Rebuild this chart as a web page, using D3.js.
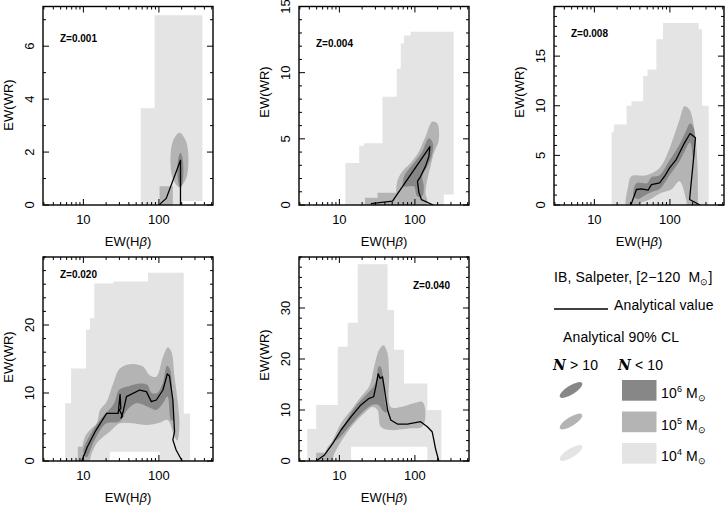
<!DOCTYPE html>
<html><head><meta charset="utf-8">
<script src="https://cdn.jsdelivr.net/npm/d3@7"></script>
<style>body{margin:0;background:#fff}svg{display:block}text{font-family:"Liberation Sans",Arial,sans-serif;fill:#000}</style>
</head><body><svg id="c" width="727" height="507"></svg>
<script>
// ---------- data ----------
const panelLabels = ["Z=0.001","Z=0.004","Z=0.008","Z=0.020","Z=0.040"];
const xMajorTicks = [10, 100];
const xMinorTicks = [3,4,5,6,7,8,9,20,30,40,50,60,70,80,90,200,300,400,500];
const yMaxima = [7.5, 15, 20, 30, 40];
const yMajorTicks = [[0,2,4,6],[0,5,10,15],[0,5,10,15],[0,10,20],[0,10,20,30]];
const yMinorSteps = [1, 1, 1, 2, 2];

// 10^4 Msun, N<10 region: [EW(Hb) breakpoint, upper EW(WR), lower EW(WR)]
const light001 = [[57.4,3.66,0],[87.7,7.17,0],[203,7.17,0.15],[376,7.17,0.15]];
const light004 = [[12.0,3.17,0],[18.3,4.47,0],[21.3,4.67,0],[37.2,8.18,0],[57.4,10.3,0],[64.9,12.2,0],[71.7,12.8,0],[87.7,13.1,0],[241,13.1,0.79],[326,13.1,0.79]];
const light008 = [[16.9,7.33,0],[18.1,8.1,0],[26.7,10.0,0],[31.0,10.45,0],[44.2,13.0,0],[50.5,13.65,0],[66.2,16.7,0],[80.9,18.35,0],[241,17.7,0],[267,10.0,0],[326,10.0,0]];
const light020 = [[5.74,8.48,0],[6.88,13.6,0],[10.85,19.3,0],[12.2,21.0,0],[13.96,26.1,0],[22.4,26.1,1.37],[24.8,26.4,1.37],[71.7,27.7,1.37],[102,27.7,0],[213,7.0,0],[259,7.0,0]];
const light040 = [[3.76,6.27,0],[4.93,11.0,0],[9.52,22.4,0],[12.9,27.1,0],[14.3,27.1,2.8],[17.5,38.6,2.8],[43.4,29.6,2.8],[53,21.8,2.8],[71.7,15.2,2.8],[97,15.2,2.8],[146,10.0,0],[224,10.0,0]];

// 10^5 Msun, N<10 blocks (same encoding)
const midBlock001 = [[102,0.71,0],[153,0.71,0]];
const midBlock004 = [[21.8,0.54,0],[32.0,0.92,0],[57.4,0.92,0]];
const midBlock008 = [];
const midBlock020 = [[8.44,2.1,0],[11.3,2.1,0]];
const midBlock040 = [[4.93,1.63,0],[7.17,1.63,0]];

// 10^5 Msun, N>10 confidence outlines [EW(Hb), EW(WR)]
const mid001 = [[[246,1.70],[227,2.43],[187,2.73],[154,2.43],[142,1.70],[154,0.97],[187,0.67],[227,0.97]]];
const mid004 = [[[57.4,0.41],[58.4,1.79],[68.2,2.54],[87.7,3.17],[113,4.05],[138,5.17],[169,6.3],[197,6.18],[207,4.92],[178,3.92],[161,2.92],[146,1.92],[138,0.92],[146,0.17],[119,-0.3],[64.9,-0.3]]];
const mid008 = [[[26.7,-0.3],[28.0,1.9],[31.0,2.9],[48.9,3.0],[73.2,3.74],[89.6,4.91],[109,6.6],[134,8.6],[156,9.95],[182,9.6],[211,7.6],[227,5.26],[234,1.9],[222,-0.3],[173,-0.3],[164,0.55],[134,2.4],[104,1.56],[77.1,1.23],[54.1,0.55],[39.9,0.15],[36.1,-0.3]]];
const mid020 = [[[9.05,-0.3],[9.52,1.62],[10.5,3.57],[12.2,4.56],[15.0,5.54],[16.6,7.5],[20.3,8.73],[24.8,11.4],[30.4,13.6],[43.4,14.26],[61.5,13.9],[75.5,12.6],[92.4,12.4],[113,15.3],[131,16.7],[146,16.1],[161,12.4],[178,8.48],[187,5.54],[175,3.0],[158,3.8],[131,6.03],[102,5.64],[68.2,5.29],[45.5,5.54],[30.4,5.54],[22.4,4.31],[18.3,3.57],[15.0,2.6],[12.9,1.13],[11.6,-0.3]]];
const mid040 = [[[6.36,-0.3],[6.68,2.16],[8.19,4.12],[10.5,7.39],[14.3,10.0],[19.3,12.6],[24.8,14.6],[28.9,18.5],[33.6,21.8],[38.4,22.7],[43.4,21.1],[45.5,17.2],[47.9,10.6],[64.9,10.6],[97,11.3],[125,11.6],[138,9.5],[125,6.7],[87.7,6.4],[47.9,6.08],[35.4,6.73],[32.0,10.0],[27.5,10.6],[21.3,9.35],[15.8,7.39],[11.6,4.77],[8.6,1.5],[7.78,-0.3]]];

// 10^6 Msun, N>10 confidence outlines
const dark001 = [[[211,1.31],[205,1.78],[193,1.97],[181,1.78],[175,1.31],[181,0.84],[193,0.65],[205,0.84]]];
const dark004 = [[[70.3,1.41],[72.0,2.17],[97,3.17],[125,4.05],[153,5.05],[173,4.67],[166,3.67],[146,2.92],[125,2.17],[131,1.41],[125,0.66],[107,0.66],[97,1.41],[83.4,1.41]]];
const dark008 = [[[33,0.9],[36,2.2],[50,2.2],[57,2.8],[73,3.0],[99,4.5],[134,6.1],[160,7.3],[185,8.2],[205,7.8],[215,6.3],[205,4.5],[185,6.3],[156,5.4],[134,4.4],[99,3.0],[73,1.6],[57,1.3],[45,0.9],[38,0.6]]];
const dark020 = [[[10,1.5],[13,4.3],[18,6.5],[25,8.3],[30,10.5],[40,11],[56,11.4],[70,11.2],[80,10],[95,10],[113,11.5],[128,14],[140,13.5],[150,10],[155,6],[145,6],[130,9.5],[113,8.5],[92,7.5],[70,8],[50,8.5],[38,7.5],[30,5.8],[20,5.5],[14,3],[11,0.5]]];
const dark040 = [[[9,4],[12,7.5],[16,10.5],[22,12.8],[28,14.5],[31,16],[33,18.5],[35,18.5],[38,16.5],[40,12],[42,9.5],[38,9.8],[33,11],[27,11],[20,9.5],[14,7],[10,4.5]]];

// Analytical value curves [EW(Hb), EW(WR)]
const line001 = [[100,0],[125,0.25],[193,1.69],[193,0]];
const line004 = [[26.1,0.11],[50.5,0.29],[158,4.42],[153,3.67],[138,2.92],[119,2.17],[108,1.79],[113,0.92],[122,0.41],[175,0]];
const line008 = [[30.4,0],[36.1,1.56],[42,1.63],[51.4,1.49],[56.9,2.06],[73.2,2.24],[85.1,2.9],[99,3.74],[121,4.58],[134,5.26],[156,6.26],[185,7.2],[218,6.77],[201,3.91],[182,0.55],[251,0]];
const line020 = [[9.52,0],[11.3,2.1],[14.3,4.31],[20.3,7.0],[28.9,7.0],[30.6,9.8],[31.3,7.7],[30.0,7.5],[33.0,6.6],[31.5,6.3],[33.5,7.2],[37.2,9.46],[55.7,10.44],[68.2,10.2],[79.4,8.73],[92.4,8.97],[113,10.44],[129,12.8],[138,12.5],[153,8.97],[161,4.31],[153,3.1],[169,1.62],[203,0]];
const line040 = [[4.93,0],[6.36,1.18],[8.19,3.47],[10.5,6.08],[14.3,8.69],[19.3,11.0],[24.8,12.3],[28.4,12.6],[30.4,14.6],[32.6,17.1],[34.6,16.2],[37.2,16.5],[39.1,14.6],[43.4,10.0],[47.9,8.04],[58.6,7.25],[79.4,7.25],[119,7.7],[146,6.73],[169,5.75],[178,4.12],[187,2.48],[207,0]];

// ---------- layout ----------
const lights = [light001, light004, light008, light020, light040];
const midBlocks = [midBlock001, midBlock004, midBlock008, midBlock020, midBlock040];
const mids = [mid001, mid004, mid008, mid020, mid040];
const darks = [dark001, dark004, dark008, dark020, dark040];
const lines = [line001, line004, line008, line020, line040];

const frames = [
  {x0:43,x1:213,y0:6.5,y1:205, zx:60, zy:41.5, ty:105},
  {x0:299,x1:469,y0:6.5,y1:205, zx:316, zy:47, ty:92},
  {x0:554,x1:724,y0:6.5,y1:205, zx:571, zy:37, ty:92},
  {x0:43,x1:213,y0:257,y1:461, zx:60, zy:278, ty:357},
  {x0:299,x1:469,y0:257,y1:461, zx:413, zy:289, ty:355}
];
const C_DARK = "#878787", C_MID = "#b4b4b4", C_LIGHT = "#e4e4e4";

const svg = d3.select("#c");
const defs = svg.append("defs");

frames.forEach((f, i) => {
  const x = d3.scaleLog().domain([2.92, 520]).range([f.x0, f.x1]);
  const y = d3.scaleLinear().domain([0, yMaxima[i]]).range([f.y1, f.y0]);
  defs.append("clipPath").attr("id", "clip" + i).append("rect")
    .attr("x", f.x0).attr("y", f.y0).attr("width", f.x1 - f.x0).attr("height", f.y1 - f.y0);
  const g = svg.append("g");
  const plot = g.append("g").attr("clip-path", `url(#clip${i})`);

  const stepArea = d3.area().x(d => x(d[0])).y0(d => y(d[2])).y1(d => y(d[1])).curve(d3.curveStepAfter);
  const blob = d3.line().x(d => x(d[0])).y(d => y(d[1])).curve(d3.curveCatmullRomClosed.alpha(0.5));
  const path = d3.line().x(d => x(d[0])).y(d => y(d[1]));

  plot.append("path").attr("d", stepArea(lights[i])).attr("fill", C_LIGHT);
  if (midBlocks[i].length) plot.append("path").attr("d", stepArea(midBlocks[i])).attr("fill", C_MID);
  mids[i].forEach(p => plot.append("path").attr("d", blob(p)).attr("fill", C_MID));
  darks[i].forEach(p => plot.append("path").attr("d", blob(p)).attr("fill", C_DARK));
  plot.append("path").attr("d", path(lines[i])).attr("fill", "none").attr("stroke", "#000").attr("stroke-width", 1.3).attr("stroke-linejoin", "round");

  // frame
  g.append("rect").attr("x", f.x0).attr("y", f.y0).attr("width", f.x1 - f.x0).attr("height", f.y1 - f.y0)
    .attr("fill", "none").attr("stroke", "#000").attr("stroke-width", 1.4);

  // x ticks (inward, bottom and top)
  const xt = (vals, len) => vals.forEach(v => {
    const px = x(v);
    g.append("line").attr("x1", px).attr("x2", px).attr("y1", f.y1).attr("y2", f.y1 - len).attr("stroke", "#000").attr("stroke-width", 1);
    g.append("line").attr("x1", px).attr("x2", px).attr("y1", f.y0).attr("y2", f.y0 + len).attr("stroke", "#000").attr("stroke-width", 1);
  });
  xt(xMajorTicks, 6); xt(xMinorTicks, 3);
  xMajorTicks.forEach(v => g.append("text").attr("x", x(v)).attr("y", f.y1 + 19).attr("text-anchor", "middle").attr("font-size", 13).text(v));

  // y ticks
  const minor = d3.range(0, yMaxima[i] + 0.001, yMinorSteps[i]).filter(v => !yMajorTicks[i].includes(v));
  const yt = (vals, len) => vals.forEach(v => {
    const py = y(v);
    g.append("line").attr("x1", f.x0).attr("x2", f.x0 + len).attr("y1", py).attr("y2", py).attr("stroke", "#000").attr("stroke-width", 1);
    g.append("line").attr("x1", f.x1).attr("x2", f.x1 - len).attr("y1", py).attr("y2", py).attr("stroke", "#000").attr("stroke-width", 1);
  });
  yt(yMajorTicks[i], 6); yt(minor, 3);
  yMajorTicks[i].forEach(v => g.append("text")
    .attr("transform", `translate(${f.x0 - 9},${y(v)}) rotate(-90)`)
    .attr("text-anchor", "middle").attr("font-size", 13).text(v));

  // titles
  g.append("text").attr("transform", `translate(${f.x0 - 30},${f.ty}) rotate(-90)`)
    .attr("text-anchor", "middle").attr("font-size", 13).text("EW(WR)");
  const xl = g.append("text").attr("x", (f.x0 + f.x1) / 2).attr("y", f.y1 + 41).attr("text-anchor", "middle").attr("font-size", 13);
  xl.append("tspan").text("EW(H");
  xl.append("tspan").attr("font-style", "italic").text("β");
  xl.append("tspan").text(")");

  g.append("text").attr("x", f.zx).attr("y", f.zy).attr("font-size", 10).attr("font-weight", "bold").text(panelLabels[i]);
});

// ---------- legend ----------
const L = svg.append("g").attr("font-size", 14).attr("letter-spacing", 0.15);
const t1 = L.append("text").attr("x", 554).attr("y", 282).style("white-space", "pre");
t1.append("tspan").text("IB, Salpeter, [2\u2212120  M");
t1.append("tspan").attr("font-size", 9).attr("dy", 3).text("\u2299");
t1.append("tspan").attr("dy", -3).text("]");
L.append("line").attr("x1", 554).attr("x2", 608).attr("y1", 309).attr("y2", 309).attr("stroke", "#000").attr("stroke-width", 1.3);
L.append("text").attr("x", 614).attr("y", 309.5).text("Analytical value");
L.append("text").attr("x", 563).attr("y", 342).text("Analytical 90% CL");
const n1 = L.append("text").attr("x", 553).attr("y", 370);
n1.append("tspan").attr("font-family", "DejaVu Serif").attr("font-style", "italic").attr("font-weight", "bold").text("N");
n1.append("tspan").text(" > 10");
const n2 = L.append("text").attr("x", 618).attr("y", 370);
n2.append("tspan").attr("font-family", "DejaVu Serif").attr("font-style", "italic").attr("font-weight", "bold").text("N");
n2.append("tspan").text(" < 10");
const legendRows = [
  {c: C_DARK, e: "6", y: 390},
  {c: C_MID, e: "5", y: 421.5},
  {c: C_LIGHT, e: "4", y: 453}
];
legendRows.forEach(r => {
  L.append("ellipse").attr("cx", 0).attr("cy", 0).attr("rx", 13).attr("ry", 4.5)
    .attr("transform", `translate(571,${r.y}) rotate(-32)`).attr("fill", r.c);
  L.append("rect").attr("x", 622).attr("y", r.y - 10).attr("width", 34.5).attr("height", 20.7).attr("fill", r.c);
  const t = L.append("text").attr("x", 661).attr("y", r.y + 8);
  t.append("tspan").text("10");
  t.append("tspan").attr("font-size", 9).attr("dy", -6).text(r.e);
  t.append("tspan").attr("dy", 6).text(" M");
  t.append("tspan").attr("font-size", 9).attr("dy", 3).text("\u2299");
});
</script></body></html>
